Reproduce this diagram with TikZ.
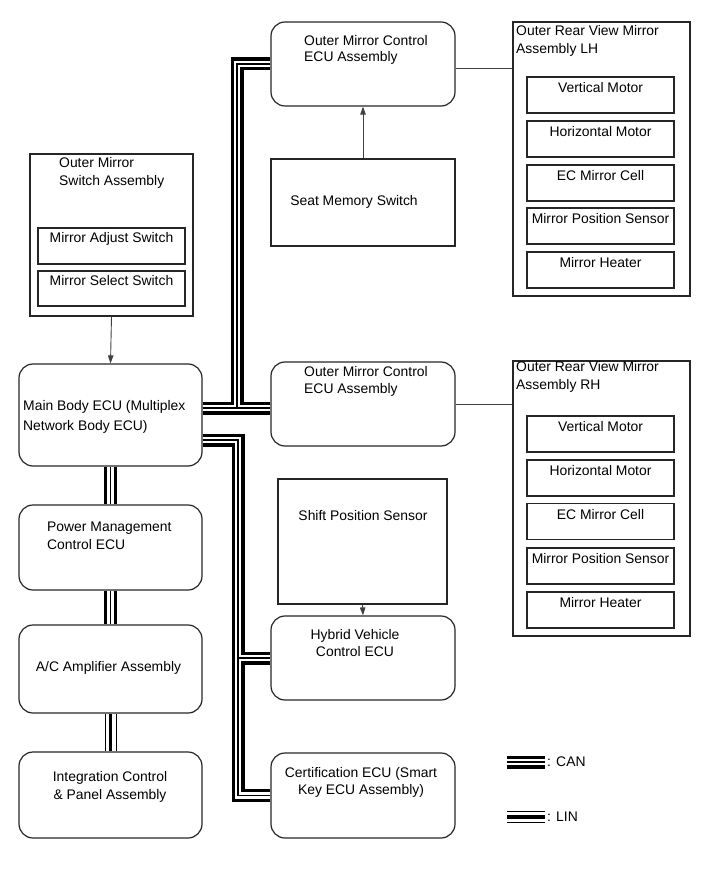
\documentclass[tikz,border=0pt]{standalone}
\usepackage{fontspec}
\setmainfont{Liberation Sans}
\usetikzlibrary{arrows.meta,backgrounds}
\tikzset{
  box/.style={draw=black!85, line width=1.2pt, rounded corners=14pt, inner sep=0pt},
  sqbox/.style={draw=black!85, line width=1.2pt, inner sep=0pt},
  txt/.style={inner sep=0pt, font=\fontsize{13.9}{18}\selectfont},
  link/.style={draw=black!75, line width=0.9pt},
  arr/.style={link, -{Triangle[length=8pt,width=5.5pt]}},
}
\begin{document}
\begin{tikzpicture}[x=1pt,y=-1pt]
  \useasboundingbox (0,0) rectangle (713,882);
  % left column
  \node[sqbox, minimum width=163pt, minimum height=162pt] (osa) at (111.5,235) {};
  \node[txt, align=left, anchor=west] (osaT) at (59,173) {Outer Mirror\\Switch Assembly};
  \node[sqbox, minimum width=147pt, minimum height=36pt] (adj) at (111.5,246) {};
  \node[txt] (adjT) at (111.5,239) {Mirror Adjust Switch};
  \node[sqbox, minimum width=147pt, minimum height=35pt] (sel) at (111.5,288.5) {};
  \node[txt] (selT) at (111.5,281) {Mirror Select Switch};
  \node[box, minimum width=183pt, minimum height=102pt] (main) at (110.5,415) {};
  \node[txt, align=left, anchor=west, font=\fontsize{13.9}{20}\selectfont] (mainT) at (23,417) {Main Body ECU (Multiplex\\Network Body ECU)};
  \node[box, minimum width=183pt, minimum height=85pt] (pm) at (110.5,547.5) {};
  \node[txt, align=left, anchor=west] (pmT) at (47,535.5) {Power Management\\Control ECU};
  \node[box, minimum width=183pt, minimum height=88pt] (ac) at (110.5,669) {};
  \node[txt] (acT) at (108.5,668) {A/C Amplifier Assembly};
  \node[box, minimum width=183pt, minimum height=86pt] (ic) at (110.5,795) {};
  \node[txt, align=center] (icT) at (110,787) {Integration Control\\\& Panel Assembly};
  % middle column
  \node[box, minimum width=184pt, minimum height=84pt] (omca) at (363,64) {};
  \node[txt, align=left, anchor=west, font=\fontsize{13.9}{16.5}\selectfont] (omcaT) at (304,50) {Outer Mirror Control\\ECU Assembly};
  \node[sqbox, minimum width=184pt, minimum height=87pt] (seat) at (363,202.5) {};
  \node[txt] (seatT) at (354,202) {Seat Memory Switch};
  \node[box, minimum width=184pt, minimum height=84pt] (omcb) at (363,404) {};
  \node[txt, align=left, anchor=west, font=\fontsize{13.9}{16.5}\selectfont] (omcbT) at (304,381.5) {Outer Mirror Control\\ECU Assembly};
  \node[sqbox, minimum width=169pt, minimum height=125pt] (shift) at (362.5,541.5) {};
  \node[txt] (shiftT) at (363,516) {Shift Position Sensor};
  \node[box, minimum width=184pt, minimum height=84pt] (hyb) at (363,658) {};
  \node[txt, align=center, font=\fontsize{13.9}{17}\selectfont] (hybT) at (355,643.5) {Hybrid Vehicle\\Control ECU};
  \node[box, minimum width=184pt, minimum height=85pt] (cert) at (363,795.5) {};
  \node[txt, align=center, font=\fontsize{13.9}{17}\selectfont] (certT) at (361,782.5) {Certification ECU (Smart\\Key ECU Assembly)};
  % right column
  \node[sqbox, minimum width=177pt, minimum height=274pt] (lh) at (601.5,159) {};
  \node[txt, align=left, anchor=west] (lhT) at (516,41) {Outer Rear View Mirror\\Assembly LH};
  \node[sqbox, minimum width=177pt, minimum height=275pt] (rh) at (601.5,498.5) {};
  \node[txt, align=left, anchor=west] (rhT) at (516,377) {Outer Rear View Mirror\\Assembly RH};
  \foreach \ya/\yb/\part [count=\i] in {95/434/Vertical Motor, 139/478/Horizontal Motor,
      183/521.5/EC Mirror Cell, 226/566/Mirror Position Sensor, 270/610/Mirror Heater}{
    \node[sqbox, minimum width=147pt, minimum height=36pt] (lh\i) at (600.5,\ya) {};
    \node[txt] (lhT\i) at (600.5,\ya-7) {\part};
    \node[sqbox, minimum width=147pt, minimum height=36pt] (rh\i) at (600.5,\yb) {};
    \node[txt] (rhT\i) at (600.5,\yb-7) {\part};
  }
  % legend
  \coordinate (cana) at (507,762);
  \coordinate (canb) at (545,762);
  \coordinate (lina) at (507,817);
  \coordinate (linb) at (545,817);
  \node[txt, anchor=west] (canT) at (547,762) {: CAN};
  \node[txt, anchor=west] (linT) at (547,817) {: LIN};
  % links
  \draw[arr] (osa.south) -- (main.north);
  \draw[arr] (seat.north) -- (omca.south);
  \draw[arr] (shift.south) -- (hyb.north);
  \draw[link] ([yshift=-4pt]omca.east) -- ([yshift=-4pt]omca.east -| lh.west);
  \draw[link] (omcb.east) -- (omcb.east -| rh.west);
  % buses
  \coordinate (ju) at (237,408);
  \coordinate (jl) at (238,440);
  \begin{scope}[on background layer, line join=miter]
    \foreach \w/\c in {13/black, 6.5/white, 1.3/black}{
      \draw[line width=\w pt, \c] (main.south) -- (pm.north);
      \draw[line width=\w pt, \c] (pm.south) -- (ac.north);
      \draw[line width=\w pt, \c] (main.east |- ju) -- (omcb.west |- ju);
      \draw[line width=\w pt, \c] (main.east |- ju) -- (ju) |- (omca.west);
      \draw[line width=\w pt, \c] (main.east |- jl) -- (jl) |- (cert.west);
      \draw[line width=\w pt, \c] (jl |- hyb.west) -- (hyb.west);
      \draw[line width=\w pt, \c] (cana) -- (canb);
    }
    \foreach \w/\c in {12/black, 10/white, 3.5/black}{
      \draw[line width=\w pt, \c] (ac.south) -- (ic.north);
      \draw[line width=\w pt, \c] (lina) -- (linb);
    }
  \end{scope}
\end{tikzpicture}
\end{document}
